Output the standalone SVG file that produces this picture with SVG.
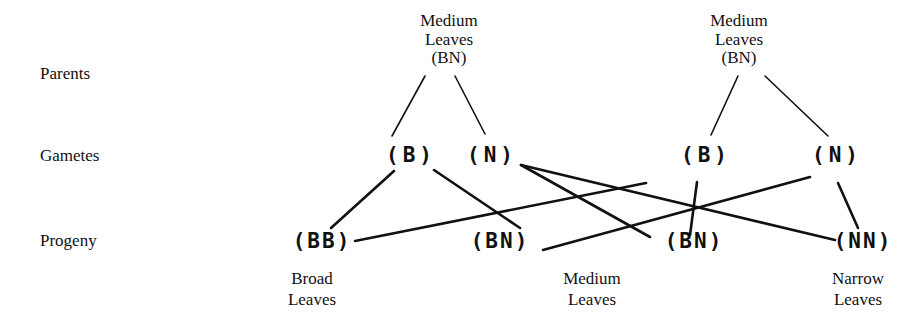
<svg xmlns="http://www.w3.org/2000/svg" width="914" height="328" viewBox="0 0 914 328">
<style>
.lbl{font-family:"Liberation Serif","Times New Roman",serif;font-size:17px;fill:#111}
.ctr{text-anchor:middle}
.gen{font-family:"DejaVu Sans Mono","Liberation Mono",monospace;font-weight:bold;font-size:21px;fill:#111;text-anchor:middle}
.gam{letter-spacing:4px}
.pro{letter-spacing:2px}
.thin{stroke:#111;stroke-width:1.6;fill:none;stroke-linecap:round}
.thick{stroke:#111;stroke-width:2.6;fill:none;stroke-linecap:round}
</style>
<rect width="914" height="328" fill="#fff"/>
<g id="row-labels">
<text class="lbl" x="40" y="79">Parents</text>
<text class="lbl" x="40" y="161">Gametes</text>
<text class="lbl" x="40" y="246">Progeny</text>
</g>
<g id="parent-left">
<text class="lbl ctr" x="449" y="26">Medium</text>
<text class="lbl ctr" x="449" y="45">Leaves</text>
<text class="lbl ctr" x="449" y="63">(BN)</text>
</g>
<g id="parent-right">
<text class="lbl ctr" x="739" y="26">Medium</text>
<text class="lbl ctr" x="739" y="45">Leaves</text>
<text class="lbl ctr" x="739" y="63">(BN)</text>
</g>
<g id="gamete-B1"><text class="gen gam" x="411" y="162">(B)</text></g>
<g id="gamete-N1"><text class="gen gam" x="492" y="162">(N)</text></g>
<g id="gamete-B2"><text class="gen gam" x="706" y="162">(B)</text></g>
<g id="gamete-N2"><text class="gen gam" x="837" y="162">(N)</text></g>
<g id="progeny-BB"><text class="gen pro" x="322" y="248">(BB)</text>
<text class="lbl ctr" x="312" y="284">Broad</text><text class="lbl ctr" x="312" y="305">Leaves</text></g>
<g id="progeny-BN1"><text class="gen pro" x="500" y="248">(BN)</text>
<text class="lbl ctr" x="592" y="284">Medium</text><text class="lbl ctr" x="592" y="305">Leaves</text></g>
<g id="progeny-BN2"><text class="gen pro" x="694" y="248">(BN)</text></g>
<g id="progeny-NN"><text class="gen pro" x="863" y="248">(NN)</text>
<text class="lbl ctr" x="858" y="284">Narrow</text><text class="lbl ctr" x="858" y="305">Leaves</text></g>
<g id="connectors">
<line class="thin" x1="425" y1="76" x2="392" y2="136"/>
<line class="thin" x1="455" y1="76" x2="485" y2="134"/>
<line class="thin" x1="738" y1="76" x2="711" y2="135"/>
<line class="thin" x1="765" y1="76" x2="828" y2="136"/>
<line class="thick" x1="394" y1="171" x2="331" y2="228"/>
<line class="thick" x1="434" y1="170" x2="520" y2="228"/>
<line class="thick" x1="355" y1="241" x2="646" y2="183"/>
<line class="thick" x1="521" y1="165" x2="835" y2="240"/>
<line class="thick" x1="521" y1="165" x2="650" y2="237"/>
<line class="thick" x1="697" y1="182" x2="690" y2="235"/>
<line class="thick" x1="810" y1="177" x2="543" y2="250"/>
<line class="thick" x1="838" y1="183" x2="858" y2="228"/>
</g>
</svg>
